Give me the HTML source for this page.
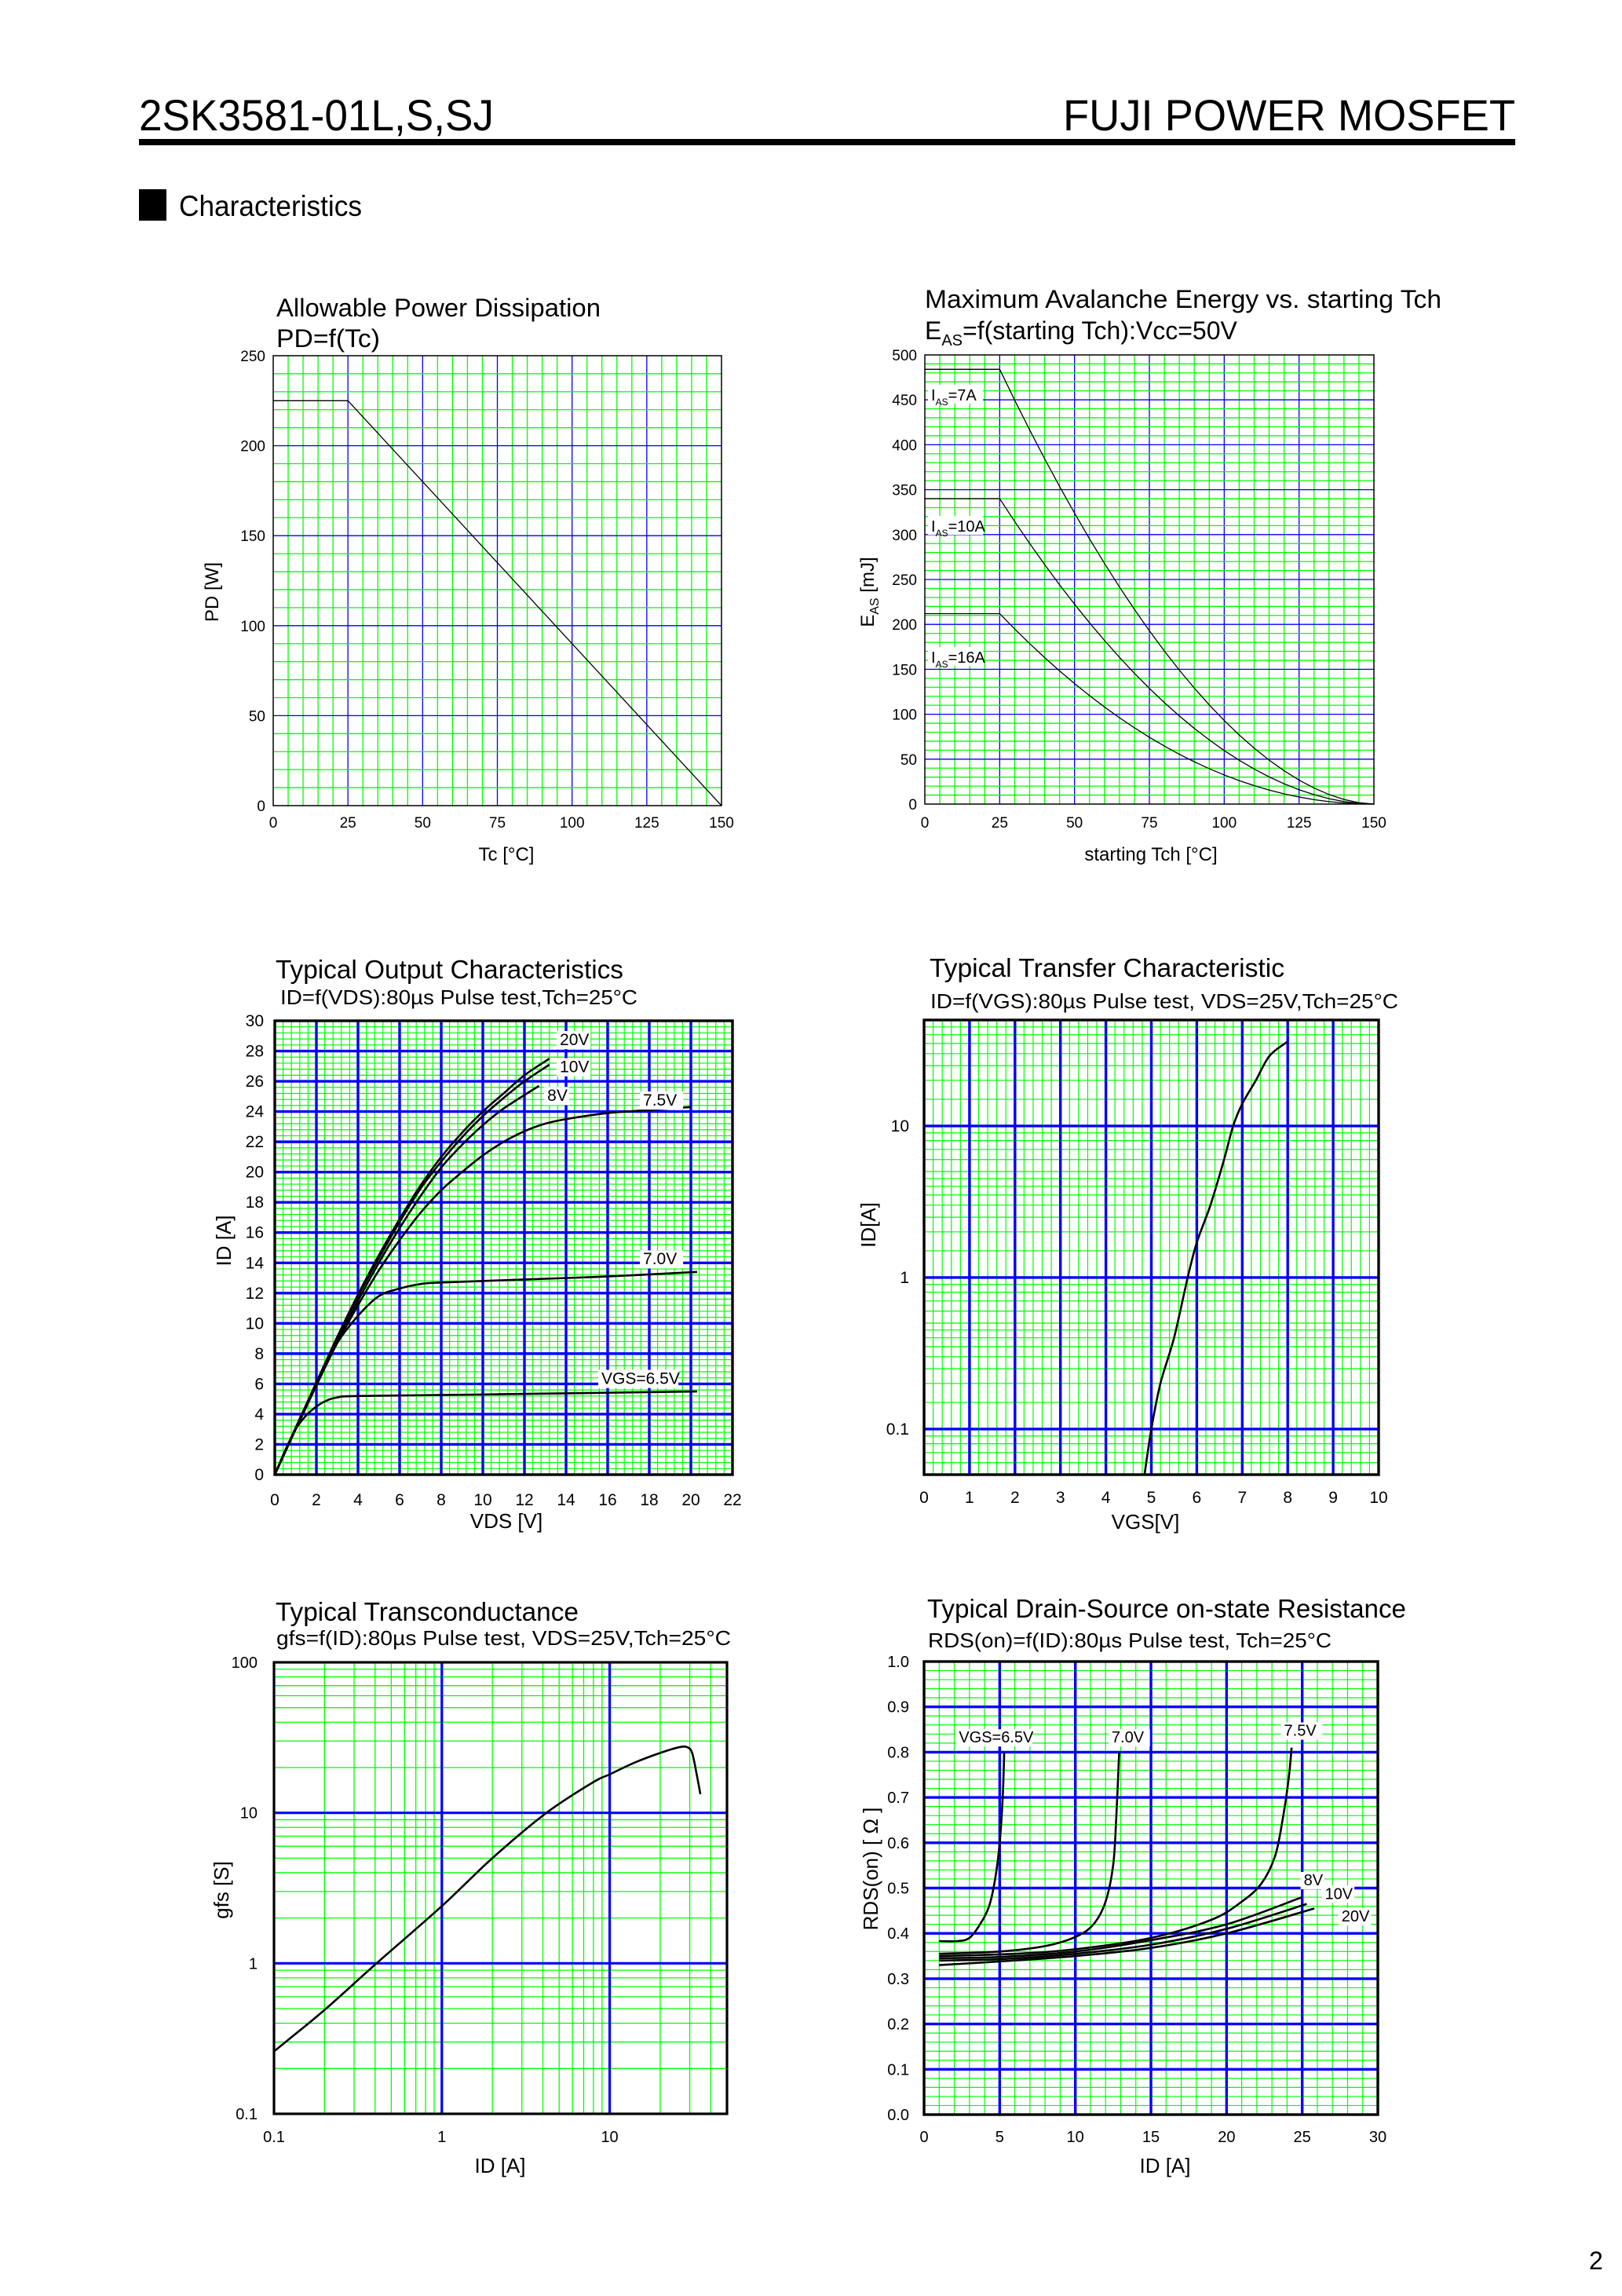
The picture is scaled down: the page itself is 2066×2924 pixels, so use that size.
<!DOCTYPE html>
<html><head><meta charset="utf-8"><style>
html,body{margin:0;padding:0;background:#fff;}
svg{display:block;font-family:"Liberation Sans",Arial,sans-serif;}
</style></head><body>
<svg id="s" width="2066" height="2924" viewBox="0 0 2066 2924" xmlns="http://www.w3.org/2000/svg">
<rect width="2066" height="2924" fill="#fff"/>
<text x="177" y="166" font-size="56" textLength="452" lengthAdjust="spacingAndGlyphs">2SK3581-01L,S,SJ</text>
<text x="1354" y="166" font-size="56" textLength="576" lengthAdjust="spacingAndGlyphs">FUJI POWER MOSFET</text>
<rect x="177" y="177" width="1753" height="8" fill="#000"/>
<rect x="177" y="241" width="35" height="40" fill="#000"/>
<text x="228" y="275" font-size="37" textLength="233" lengthAdjust="spacingAndGlyphs">Characteristics</text>

<text x="352" y="403" font-size="32" textLength="413" lengthAdjust="spacingAndGlyphs">Allowable Power Dissipation</text>
<text x="352" y="442" font-size="32" textLength="132" lengthAdjust="spacingAndGlyphs">PD=f(Tc)</text>
<text x="1178" y="392" font-size="32" textLength="658" lengthAdjust="spacingAndGlyphs">Maximum Avalanche Energy vs. starting Tch</text>
<text x="1178" y="432" font-size="32">E<tspan font-size="20" dy="8">AS</tspan><tspan dy="-8">=f(starting Tch):Vcc=50V</tspan></text>

<text x="351" y="1246" font-size="33" textLength="443" lengthAdjust="spacingAndGlyphs">Typical Output Characteristics</text>
<text x="357" y="1279" font-size="26" textLength="455" lengthAdjust="spacingAndGlyphs">ID=f(VDS):80µs Pulse test,Tch=25°C</text>
<text x="1184" y="1244" font-size="33" textLength="452" lengthAdjust="spacingAndGlyphs">Typical Transfer Characteristic</text>
<text x="1185" y="1284" font-size="26" textLength="596" lengthAdjust="spacingAndGlyphs">ID=f(VGS):80µs Pulse test, VDS=25V,Tch=25°C</text>
<text x="351" y="2064" font-size="33" textLength="386" lengthAdjust="spacingAndGlyphs">Typical Transconductance</text>
<text x="352" y="2095" font-size="26" textLength="579" lengthAdjust="spacingAndGlyphs">gfs=f(ID):80µs Pulse test, VDS=25V,Tch=25°C</text>
<text x="1181" y="2060" font-size="33" textLength="610" lengthAdjust="spacingAndGlyphs">Typical Drain-Source on-state Resistance</text>
<text x="1182" y="2098" font-size="26" textLength="514" lengthAdjust="spacingAndGlyphs">RDS(on)=f(ID):80µs Pulse test, Tch=25°C</text>

<text x="645" y="1096" font-size="24" text-anchor="middle">Tc [°C]</text>
<text x="1466" y="1096" font-size="24" text-anchor="middle">starting Tch [°C]</text>
<text transform="translate(278,754) rotate(-90)" font-size="24" text-anchor="middle">PD [W]</text>
<text transform="translate(1113,754) rotate(-90)" font-size="24" text-anchor="middle">E<tspan font-size="16" dy="6">AS</tspan><tspan dy="-6"> [mJ]</tspan></text>
<text x="645" y="1946" font-size="26" text-anchor="middle">VDS [V]</text>
<text x="1459" y="1947" font-size="26" text-anchor="middle">VGS[V]</text>
<text x="637" y="2767" font-size="26" text-anchor="middle">ID [A]</text>
<text x="1484" y="2767" font-size="26" text-anchor="middle">ID [A]</text>
<text transform="translate(294,1580) rotate(-90)" font-size="26" text-anchor="middle">ID [A]</text>
<text transform="translate(1115,1560) rotate(-90)" font-size="26" text-anchor="middle">ID[A]</text>
<text transform="translate(291,2407) rotate(-90)" font-size="26" text-anchor="middle">gfs [S]</text>
<text transform="translate(1118,2380) rotate(-90)" font-size="26" text-anchor="middle">RDS(on) [ Ω ]</text>
<text x="2024" y="2890" font-size="32">2</text>
<g id="g"></g>
</svg>
<script>
var NS="http://www.w3.org/2000/svg",G=document.getElementById("g");
function el(t,a,txt){var e=document.createElementNS(NS,t);for(var k in a)e.setAttribute(k,a[k]);if(txt!==undefined)e.textContent=txt;G.appendChild(e);return e;}
function ln(x1,y1,x2,y2,c,w){el("line",{x1:x1,y1:y1,x2:x2,y2:y2,stroke:c,"stroke-width":w});}
function lin(a,b,p,q){return function(v){return p+(v-a)/(b-a)*(q-p);};}
function lg(a,b,p,q){return function(v){return p+(Math.log10(v)-Math.log10(a))/(Math.log10(b)-Math.log10(a))*(q-p);};}
function path(pts,fx,fy,w){var P=pts.map(function(p){return[fx(p[0]),fy(p[1])];});var d="M"+P[0][0]+","+P[0][1];
for(var i=0;i<P.length-1;i++){var p0=P[i-1]||P[i],p1=P[i],p2=P[i+1],p3=P[i+2]||p2;
d+=" C"+(p1[0]+(p2[0]-p0[0])/6)+","+(p1[1]+(p2[1]-p0[1])/6)+" "+(p2[0]-(p3[0]-p1[0])/6)+","+(p2[1]-(p3[1]-p1[1])/6)+" "+p2[0]+","+p2[1];}
el("path",{d:d,fill:"none",stroke:"#000","stroke-width":w,"stroke-linejoin":"round"});}
function lbl(x,y,t,fs,anchor,bg){if(bg){var w=t.length*fs*0.56;var x0=anchor=="end"?x-w:x;el("rect",{x:x0-4,y:y-fs*0.85,width:w+8,height:fs*1.1,fill:"#fff"});}
el("text",{x:x,y:y,"font-size":fs,"text-anchor":anchor||"start"},t);}
var GR="#00ff00",BL="#0000ff";

// Chart 1
(function(){var X0=348,X1=919,Y0=453,Y1=1026,fx=lin(0,150,X0,X1),fy=lin(0,250,Y1,Y0);
for(var v=5;v<150;v+=5)ln(fx(v),Y0,fx(v),Y1,v%25==0?BL:GR,1.3);
for(var v=10;v<250;v+=10)ln(X0,fy(v),X1,fy(v),v%50==0?BL:GR,1.3);
el("rect",{x:X0,y:Y0,width:X1-X0,height:Y1-Y0,fill:"none",stroke:"#000","stroke-width":1.5});
el("polyline",{points:fx(0)+","+fy(225)+" "+fx(25)+","+fy(225)+" "+fx(150)+","+fy(0),fill:"none",stroke:"#000","stroke-width":1.3});
["0","25","50","75","100","125","150"].forEach(function(t){lbl(fx(+t),1054,t,19,"middle");});
["0","50","100","150","200","250"].forEach(function(t){lbl(X0-10,fy(+t)+7,t,19,"end");});
})();
// Chart 2
(function(){var X0=1178,X1=1750,Y0=452,Y1=1024,fx=lin(0,150,X0,X1),fy=lin(0,500,Y1,Y0);
for(var v=5;v<150;v+=5)ln(fx(v),Y0,fx(v),Y1,v%25==0?BL:GR,1.3);
for(var v=10;v<500;v+=10)ln(X0,fy(v),X1,fy(v),v%50==0?BL:GR,1.3);
el("rect",{x:X0,y:Y0,width:X1-X0,height:Y1-Y0,fill:"none",stroke:"#000","stroke-width":1.5});
[[484,1.8],[340,1.9],[212,2.05]].forEach(function(c){var pts=[[0,c[0]],[25,c[0]]];for(var t=30;t<=150;t+=5)pts.push([t,c[0]*Math.pow((150-t)/125,c[1])]);
el("polyline",{points:pts.map(function(p){return fx(p[0])+","+fy(p[1]);}).join(" "),fill:"none",stroke:"#000","stroke-width":1.3});});
[["7A",504],["10A",671],["16A",838]].forEach(function(a){el("rect",{x:1182,y:a[1]-14,width:70,height:24,fill:"#fff"});
var t=el("text",{x:1186,y:a[1]+6,"font-size":20},"I");var s=document.createElementNS(NS,"tspan");s.setAttribute("font-size","12");s.setAttribute("dy","6");s.textContent="AS";t.appendChild(s);
var s2=document.createElementNS(NS,"tspan");s2.setAttribute("dy","-6");s2.textContent="="+a[0];t.appendChild(s2);});
["0","25","50","75","100","125","150"].forEach(function(t){lbl(fx(+t),1054,t,19,"middle");});
["0","50","100","150","200","250","300","350","400","450","500"].forEach(function(t){lbl(X0-10,fy(+t)+7,t,19,"end");});
})();
// Chart 3
(function(){var X0=350,X1=933,Y0=1300,Y1=1878,fx=lin(0,22,X0,X1),fy=lin(0,30,Y1,Y0);
for(var i=1;i<55;i++){var v=i*0.4;if(i%5)ln(fx(v),Y0,fx(v),Y1,GR,1.2);}
for(var i=1;i<75;i++){var v=i*0.4;if(i%5)ln(X0,fy(v),X1,fy(v),GR,1.2);}
for(var v=2;v<22;v+=2)ln(fx(v),Y0,fx(v),Y1,BL,3.4);
for(var v=2;v<30;v+=2)ln(X0,fy(v),X1,fy(v),BL,3.4);
el("rect",{x:X0,y:Y0,width:X1-X0,height:Y1-Y0,fill:"none",stroke:"#000","stroke-width":3.4});
var w=2.6;
path([[0,0],[1,3.1],[2,6.1],[3,9.1],[4,11.9],[5,14.5],[6,16.9],[7,19.1],[8,21],[9,22.6],[10,24],[11,25.2],[12,26.4],[13.2,27.5]],fx,fy,w);
path([[0,0],[1,3],[2,6],[3,9],[4,11.8],[5,14.3],[6,16.7],[7,18.9],[8,20.7],[9,22.3],[10,23.7],[11,24.9],[12,26],[13.2,27.1]],fx,fy,w);
path([[0,0],[1,3],[2,5.9],[3,8.8],[4,11.5],[5,14],[6,16.3],[7,18.4],[8,20.3],[9,21.8],[10,23.1],[11,24.2],[12.7,25.7]],fx,fy,w);
path([[0,0],[1,3],[2,5.9],[3,8.7],[4,11.2],[5,13.5],[6,15.5],[7,17.3],[8,18.8],[9,20],[10,21.1],[11,22],[12,22.7],[13,23.2],[14,23.5],[16,23.9],[18,24.1],[20,24.3]],fx,fy,w);
path([[0,0],[1,3],[2,6],[3,8.7],[4,10.5],[5,11.8],[6,12.3],[7,12.6],[8,12.7],[12,12.9],[16,13.1],[20.3,13.4]],fx,fy,w);
path([[0,0],[0.5,1.6],[1,3],[1.5,3.9],[2,4.5],[2.5,4.9],[3,5.1],[4,5.2],[10,5.3],[20.3,5.5]],fx,fy,w);
lbl(fx(13.7),fy(28.4),"20V",21,"start",1);
lbl(fx(13.7),fy(26.6),"10V",21,"start",1);
lbl(fx(13.1),fy(24.7),"8V",21,"start",1);
lbl(fx(17.7),fy(24.4),"7.5V",21,"start",1);
lbl(fx(17.7),fy(13.9),"7.0V",21,"start",1);
lbl(fx(15.7),fy(6),"VGS=6.5V",21,"start",1);
for(var v=0;v<=22;v+=2)lbl(fx(v),1917,String(v),21,"middle");
for(var v=0;v<=30;v+=2)lbl(X0-14,fy(v)+7,String(v),21,"end");
})();
// Chart 4
(function(){var X0=1177,X1=1756,Y0=1299,Y1=1878,fx=lin(0,10,X0,X1),fy=lg(0.05,50,Y1,Y0);
for(var i=1;i<50;i++){if(i%5)ln(fx(i*0.2),Y0,fx(i*0.2),Y1,GR,1.2);}
var ks=[1.5,2,2.5,3,3.5,4,4.5,5,6,7,8,9];
[0.01,0.1,1,10].forEach(function(d){ks.forEach(function(k){var v=k*d;if(v>0.05&&v<50)ln(X0,fy(v),X1,fy(v),GR,1.2);});});
for(var v=1;v<10;v++)ln(fx(v),Y0,fx(v),Y1,BL,3.4);
[0.1,1,10].forEach(function(v){ln(X0,fy(v),X1,fy(v),BL,3.4);});
el("rect",{x:X0,y:Y0,width:X1-X0,height:Y1-Y0,fill:"none",stroke:"#000","stroke-width":3.4});
path([[4.85,0.05],[5,0.1],[5.2,0.2],[5.5,0.4],[5.8,1],[6,1.7],[6.3,3],[6.6,6],[6.8,10],[7,14],[7.3,20],[7.6,29],[8,36]],fx,fy,2.6);
["0","1","2","3","4","5","6","7","8","9","10"].forEach(function(t){lbl(fx(+t),1914,t,21,"middle");});
[["0.1",0.1],["1",1],["10",10]].forEach(function(a){lbl(1158,fy(a[1])+7,a[0],21,"end");});
})();
// Chart 5
(function(){var X0=349,X1=926,Y0=2117,Y1=2692,fx=lg(0.1,50,X0,X1),fy=lg(0.1,100,Y1,Y0);
[0.1,1,10].forEach(function(d){for(var k=2;k<10;k++){var v=k*d;if(v<50)ln(fx(v),Y0,fx(v),Y1,GR,1.3);}});
[0.1,1,10].forEach(function(d){for(var k=2;k<10;k++){ln(X0,fy(k*d),X1,fy(k*d),GR,1.3);}});
[1,10].forEach(function(v){ln(fx(v),Y0,fx(v),Y1,BL,3.2);});
[1,10].forEach(function(v){ln(X0,fy(v),X1,fy(v),BL,3.2);});
el("rect",{x:X0,y:Y0,width:X1-X0,height:Y1-Y0,fill:"none",stroke:"#000","stroke-width":3.2});
path([[0.1,0.26],[0.2,0.49],[0.4,0.98],[1,2.4],[2,5],[4.2,10],[8,16],[10,18],[14,21.5],[20,25],[26,27.3],[29,27.3],[31,25],[33,18],[34.7,13.3]],fx,fy,2.6);
[["0.1",0.1],["1",1],["10",10]].forEach(function(a){lbl(fx(a[1]),2728,a[0],20,"middle");});
[["0.1",0.1],["1",1],["10",10],["100",100]].forEach(function(a){lbl(328,fy(a[1])+7,a[0],20,"end");});
})();
// Chart 6
(function(){var X0=1177,X1=1755,Y0=2116,Y1=2693,fx=lin(0,30,X0,X1),fy=lin(0,1,Y1,Y0);
for(var v=1;v<30;v++)if(v%5)ln(fx(v),Y0,fx(v),Y1,GR,1.2);
for(var i=1;i<50;i++)if(i%5)ln(X0,fy(i*0.02),X1,fy(i*0.02),GR,1.2);
for(var v=5;v<30;v+=5)ln(fx(v),Y0,fx(v),Y1,BL,3.4);
for(var i=1;i<10;i++)ln(X0,fy(i/10),X1,fy(i/10),BL,3.4);
el("rect",{x:X0,y:Y0,width:X1-X0,height:Y1-Y0,fill:"none",stroke:"#000","stroke-width":3.4});
var w=2.6;
path([[1,0.383],[2.2,0.383],[3,0.39],[3.7,0.42],[4.3,0.46],[4.7,0.52],[5,0.6],[5.2,0.7],[5.3,0.8]],fx,fy,w);
path([[1,0.355],[5,0.36],[8,0.372],[10,0.392],[11.2,0.42],[12,0.47],[12.5,0.55],[12.7,0.65],[12.9,0.8]],fx,fy,w);
path([[1,0.35],[6,0.355],[10,0.365],[15,0.39],[19,0.43],[21,0.47],[22.3,0.51],[23.2,0.57],[23.7,0.65],[24.1,0.74],[24.3,0.81]],fx,fy,w);
path([[1,0.345],[5,0.348],[10,0.36],[15,0.385],[20,0.42],[25,0.48]],fx,fy,w);
path([[1,0.34],[5,0.343],[10,0.355],[15,0.375],[20,0.41],[25.3,0.465]],fx,fy,w);
path([[1,0.33],[5,0.338],[10,0.35],[15,0.368],[20,0.40],[25.8,0.455]],fx,fy,w);
lbl(fx(2.3),fy(0.835)+8,"VGS=6.5V",20,"start",1);
lbl(fx(12.4),fy(0.835)+8,"7.0V",20,"start",1);
lbl(fx(23.8),fy(0.85)+8,"7.5V",20,"start",1);
lbl(fx(25.1),fy(0.52)+8,"8V",20,"start",1);
lbl(fx(26.5),fy(0.49)+8,"10V",20,"start",1);
lbl(fx(27.6),fy(0.44)+8,"20V",20,"start",1);
["0","5","10","15","20","25","30"].forEach(function(t){lbl(fx(+t),2728,t,20,"middle");});
["0.0","0.1","0.2","0.3","0.4","0.5","0.6","0.7","0.8","0.9","1.0"].forEach(function(t){lbl(1158,fy(+t)+7,t,20,"end");});
})();
</script>
</body></html>
